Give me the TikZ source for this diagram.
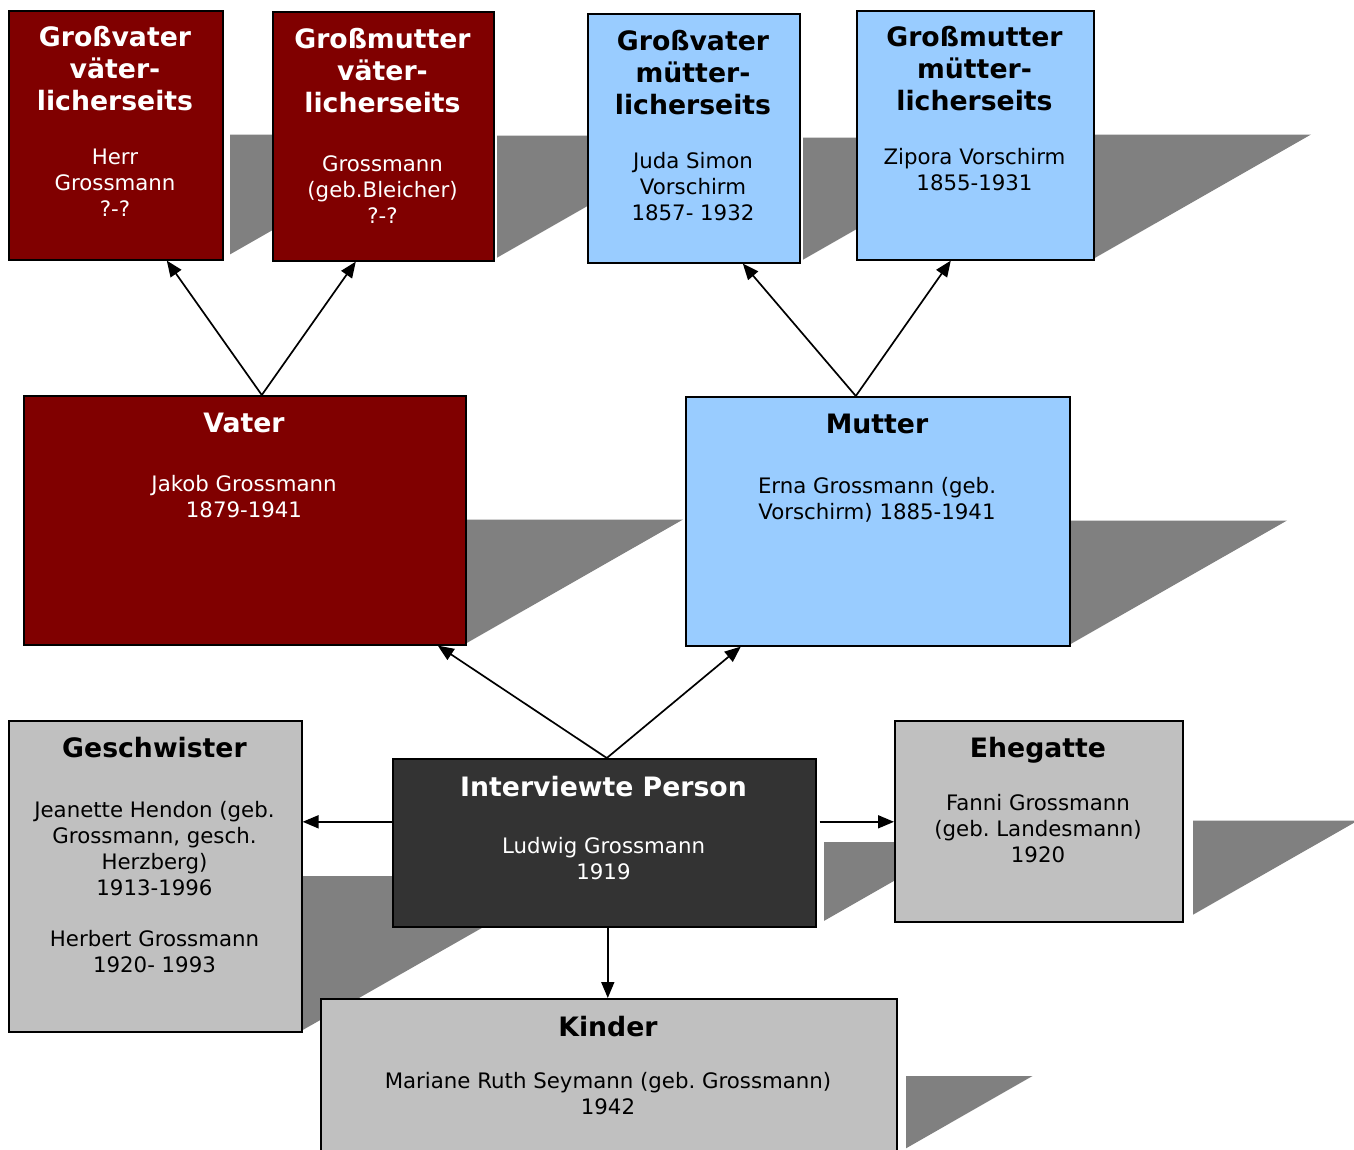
\documentclass[tikz,border=0pt]{standalone}
\usepackage{fontspec}
\setmainfont{DejaVu Sans}
\usetikzlibrary{arrows.meta}
\definecolor{dred}{HTML}{800000}
\definecolor{lblue}{HTML}{99CCFF}
\definecolor{lgray}{HTML}{C0C0C0}
\definecolor{dgray}{HTML}{333333}
\definecolor{shgray}{HTML}{808080}
\frenchspacing
\newcommand\ctrset{\leftskip=0pt plus 1fil\rightskip=0pt plus 1fil\parfillskip=0pt\spaceskip=0pt\xspaceskip=0pt\frenchspacing\relax}
\newcommand\ttlfont{\fontsize{26.7}{32}\selectfont\bfseries\ctrset}
\newcommand\bdyfont{\fontsize{21.3}{25.8}\selectfont\ctrset}
\newcommand\hstrut{\rule{0pt}{22pt}}
\setlength{\parindent}{0pt}
\begin{document}
\begin{tikzpicture}[x=1pt,y=-1pt,
  famebox/.style={draw=black, line width=1.6pt, anchor=north west, inner sep=0pt},
  txt/.style={anchor=north, inner sep=0pt, align=center},
  arr/.style={draw=black, line width=1.7pt, -{Triangle[length=16pt,width=13pt]}},
  shadowpoly/.style={fill=shgray, draw=none}]

\useasboundingbox (0,0) rectangle (1354,1149);
\clip (0,0) rectangle (1354,1149);

% shadows
\fill[shadowpoly] (230,134.5) -- (440,134.5) -- (230,254.4) -- cycle;
\fill[shadowpoly] (497,135.5) -- (711,135.5) -- (497,257.7) -- cycle;
\fill[shadowpoly] (803,137.5) -- (1017,137.5) -- (803,259.7) -- cycle;
\fill[shadowpoly] (1093,134.5) -- (1311,134.5) -- (1093,259) -- cycle;
\fill[shadowpoly] (465,519.5) -- (683,519.5) -- (465,644) -- cycle;
\fill[shadowpoly] (1069,520.5) -- (1287,520.5) -- (1069,645) -- cycle;
\fill[shadowpoly] (301,876) -- (573,876) -- (301,1031) -- cycle;
\fill[shadowpoly] (824,842) -- (962,842) -- (824,920.9) -- cycle;
\fill[shadowpoly] (1193,820.5) -- (1358,820.5) -- (1193,914.7) -- cycle;
\fill[shadowpoly] (906,1076) -- (1032.5,1076) -- (906,1148.3) -- cycle;

% boxes
\node[famebox, fill=dred, minimum width=214pt, minimum height=249pt] (gv1) at (8,10) {};
\node[famebox, fill=dred, minimum width=221pt, minimum height=249pt] (gm1) at (272,11) {};
\node[famebox, fill=lblue, minimum width=212pt, minimum height=249pt] (gv2) at (587,13) {};
\node[famebox, fill=lblue, minimum width=237pt, minimum height=249pt] (gm2) at (856,10) {};
\node[famebox, fill=dred, minimum width=442pt, minimum height=249pt] (vater) at (23,395) {};
\node[famebox, fill=lblue, minimum width=384pt, minimum height=249pt] (mutter) at (685,396) {};
\node[famebox, fill=lgray, minimum width=293pt, minimum height=311pt] (gesch) at (8,720) {};
\node[famebox, fill=dgray, minimum width=423pt, minimum height=168pt] (interv) at (392,758) {};
\node[famebox, fill=lgray, minimum width=288pt, minimum height=201pt] (ehe) at (894,720) {};
\node[famebox, fill=lgray, minimum width=576pt, minimum height=156pt] (kinder) at (320,998) {};

% texts
\node[txt, text=white, text width=214pt] (gv1t) at (115,24)
  {{\ttlfont\hstrut Großvater\\väter-\\licherseits\par}\vskip28.7pt{\bdyfont Herr\\Grossmann\\?-?\par}};
\node[txt, text=white, text width=221pt] (gm1t) at (382.5,26)
  {{\ttlfont\hstrut Großmutter\\väter-\\licherseits\par}\vskip33.7pt{\bdyfont Grossmann\\(geb.Bleicher)\\?-?\par}};
\node[txt, text=black, text width=212pt] (gv2t) at (693,28)
  {{\ttlfont\hstrut Großvater\\mütter-\\licherseits\par}\vskip28.7pt{\bdyfont Juda Simon\\Vorschirm\\1857- 1932\par}};
\node[txt, text=black, text width=237pt] (gm2t) at (974.5,24)
  {{\ttlfont\hstrut Großmutter\\mütter-\\licherseits\par}\vskip28.7pt{\bdyfont Zipora Vorschirm\\1855-1931\par}};
\node[txt, text=white, text width=442pt] (vatert) at (244,410)
  {{\ttlfont\hstrut Vater\par}\vskip33.7pt{\bdyfont Jakob Grossmann\\1879-1941\par}};
\node[txt, text=black, text width=384pt] (muttert) at (877,411)
  {{\ttlfont\hstrut Mutter\par}\vskip34.7pt{\bdyfont Erna Grossmann (geb.\\Vorschirm) 1885-1941\par}};
\node[txt, text=black, text width=293pt] (gescht) at (154.5,735)
  {{\ttlfont\hstrut Geschwister\par}\vskip34.7pt{\bdyfont Jeanette Hendon (geb.\\Grossmann, gesch.\\Herzberg)\\1913-1996\\[25.8pt]Herbert Grossmann\\1920- 1993\par}};
\node[txt, text=white, text width=423pt] (intervt) at (603.5,774)
  {{\ttlfont\hstrut Interviewte Person\par}\vskip31.7pt{\bdyfont Ludwig Grossmann\\1919\par}};
\node[txt, text=black, text width=288pt] (ehet) at (1038,735)
  {{\ttlfont\hstrut Ehegatte\par}\vskip27.7pt{\bdyfont Fanni Grossmann\\(geb. Landesmann)\\1920\par}};
\node[txt, text=black, text width=576pt] (kindert) at (608,1014)
  {{\ttlfont\hstrut Kinder\par}\vskip26.7pt{\bdyfont Mariane Ruth Seymann (geb. Grossmann)\\1942\par}};

% connectors
\draw[arr] ([xshift=17pt]vater.north) -- ([xshift=51pt]gv1.south);
\draw[arr] ([xshift=17pt]vater.north) -- ([xshift=-27.5pt]gm1.south);
\draw[arr] ([xshift=-22pt]mutter.north) -- ([xshift=49pt]gv2.south);
\draw[arr] ([xshift=-22pt]mutter.north) -- ([xshift=-24.5pt]gm2.south);
\draw[arr] ([xshift=2.5pt]interv.north) -- ([xshift=193pt]vater.south);
\draw[arr] ([xshift=2.5pt]interv.north) -- ([xshift=-137pt]mutter.south);
\draw[arr] ([yshift=21pt]interv.west) -- ([yshift=54.5pt]gesch.east);
\draw[arr] ([yshift=21pt,xshift=3pt]interv.east) -- ([yshift=-0.5pt]ehe.west);
\draw[arr] ([xshift=3.5pt]interv.south) -- ([xshift=-1pt]kinder.north);
\end{tikzpicture}
\end{document}
